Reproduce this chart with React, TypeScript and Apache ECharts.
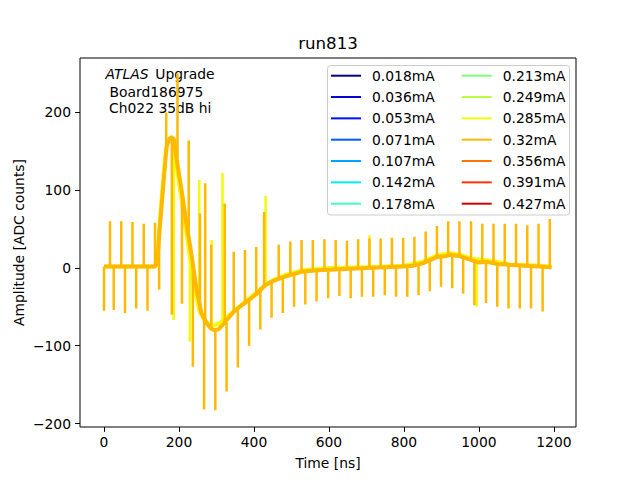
import React, { useEffect, useRef } from 'react';
import * as echarts from 'echarts';

// legend entries (laser current) and their jet colours
const currents = [
  '0.018mA', '0.036mA', '0.053mA', '0.071mA', '0.107mA', '0.142mA', '0.178mA',
  '0.213mA', '0.249mA', '0.285mA', '0.32mA', '0.356mA', '0.391mA', '0.427mA',
];
const currentColors = [
  '#000080', '#0000d1', '#0012ff', '#005bff', '#00a4ff', '#06ecf1', '#40ffb6',
  '#7bff7b', '#b6ff40', '#f1fc06', '#ffb900', '#ff7500', '#ff3200', '#d20000',
];

const xTicks = [0, 200, 400, 600, 800, 1000, 1200];
const yTicks = [-200, -100, 0, 100, 200];

// 0.32mA trace: slow pulse shape (ns, ADC)
const baseTimes32 = [
  0, 40, 80, 120, 136, 142, 149, 158, 167, 174, 180, 186, 194, 207, 220, 234, 247,
  260, 274, 285, 295, 305, 315, 336, 349, 370, 390, 410, 430, 455, 483, 527, 570,
  616, 660, 700, 750, 800, 825, 850, 870, 887, 910, 923, 950, 980, 1000, 1020,
  1050, 1079, 1120, 1160, 1194,
];
const baseValues32 = [
  2, 2, 2, 2, 2, 6, 53, 105, 156, 166, 168, 166, 139, 100, 57, 15, -28,
  -58, -71, -78, -80, -79, -74, -62, -55, -47, -40, -32, -22, -16, -11, -5, -3,
  -2, -1, 0, 1, 2, 3, 6, 10, 14, 15, 17, 15, 10, 7, 8,
  5, 4, 3, 2, 1,
];
// 0.32mA pickup spikes: time, level at the foot, tip
const spikeTimes32 = [
  16, 46, 76, 106, 136, 166, 196, 226, 256, 270, 286, 322, 346, 376, 406, 427,
  466, 497, 527, 557, 588, 618, 648, 678, 708, 738, 768, 798, 828, 858, 888, 918,
  948, 979, 1009, 1039, 1069, 1099, 1129, 1159, 1189,
  0, 26, 56, 86, 116, 147, 181, 208, 237, 267, 297, 327, 357, 387, 417, 447,
  477, 507, 537, 567, 598, 628, 658, 688, 718, 749, 779, 809, 839, 869, 899, 929,
  958, 988, 1019, 1049, 1079, 1109, 1139, 1170,
];
const spikeFeet32 = [
  2, 2, 2, 2, 2, 150, 140, 45, -55, -70, -78, -73, -56, -46, -36, -24,
  -12, -8, -5, -4, -3, -2, -1, -1, 0, 1, 1, 2, 3, 8, 14, 16,
  15, 10, 7, 7, 4, 4, 3, 2, 1,
  2, 2, 2, 2, 2, 30, 168, 95, 10, -66, -80, -70, -52, -41, -30, -18,
  -11, -7, -5, -4, -3, -2, -1, 0, 0, 1, 1, 2, 4, 10, 15, 16,
  14, 9, 8, 5, 4, 4, 3, 2,
];
const spikeTips32 = [
  60, 60, 59, 57, 58, 200, 250, 164, 70, 109, 30, 83, 21, 23, 27, 72,
  30, 34, 36, 36, 37, 36, 35, 37, 38, 38, 39, 39, 40, 47, 54, 60,
  60, 60, 57, 57, 57, 57, 55, 57, 63,
  -55, -54, -58, -52, -55, -28, -60, -46, -127, -182, -183, -159, -128, -100, -79, -64,
  -58, -50, -47, -43, -39, -36, -39, -37, -37, -35, -37, -37, -35, -30, -24, -26,
  -33, -48, -45, -50, -52, -52, -52, -56,
];

// 0.285mA trace, mostly hidden under 0.32mA
const baseTimes285 = [
  0, 136, 142, 148, 157, 165, 172, 180, 186, 192, 203, 216, 229, 242, 255, 268,
  280, 292, 305, 320, 340, 360, 390, 420, 450, 483, 527, 600, 700, 800, 850, 887,
  923, 950, 980, 1020, 1079, 1194,
];
const baseValues285 = [
  2, 2, 8, 55, 108, 152, 163, 165, 160, 135, 100, 57, 15, -28, -56, -68,
  -72, -74, -72, -66, -58, -50, -38, -26, -16, -9, -3, 0, 1, 3, 8, 16,
  19, 17, 12, 10, 5, 2,
];
const spikeTimes285 = [254, 287, 316, 431, 708, 186, 229, 994];
const spikeFeet285 = [-50, -73, -66, -20, 0, 165, 25, 8];
const spikeTips285 = [113, 36, 122, 93, 42, -67, -95, -50];

const FONT = 'DejaVu Sans';
const FS = 13.89; // 10pt at 100 dpi
const FS_TITLE = 16.67; // 12pt

interface Trace {
  base: number[][];
  spikes: (number | null)[][];
}

const buildTrace = (
  times: number[], values: number[],
  sTimes: number[], sFeet: number[], sTips: number[],
): Trace => {
  const spikes: (number | null)[][] = [];
  sTimes.forEach((t, i) => {
    spikes.push([t, null]);
    spikes.push([t, sFeet[i]]);
    spikes.push([t, sTips[i]]);
  });
  return { base: times.map((t, i) => [t, values[i]]), spikes };
};

const minusFmt = (v: number) => (v < 0 ? '\u2212' + Math.abs(v) : String(v));

const App: React.FC = () => {
  const chartRef = useRef<HTMLDivElement>(null);

  useEffect(() => {
    if (!chartRef.current) return;
    const chart = echarts.init(chartRef.current, undefined, { renderer: 'svg' });

    const traces: Record<string, Trace> = {
      '0.285mA': buildTrace(baseTimes285, baseValues285, spikeTimes285, spikeFeet285, spikeTips285),
      '0.32mA': buildTrace(baseTimes32, baseValues32, spikeTimes32, spikeFeet32, spikeTips32),
    };

    const lineSeries = (name: string, color: string, data: any[], width: number) => ({
      name,
      type: 'line' as const,
      data,
      showSymbol: false,
      symbol: 'none',
      connectNulls: false,
      color,
      lineStyle: { color, width, join: 'round' as const, cap: 'butt' as const },
      emphasis: { disabled: true },
      z: 2,
    });

    const series = currents.flatMap((name, i) => {
      const tr = traces[name];
      if (!tr) return [lineSeries(name, currentColors[i], [], 2)];
      return [
        lineSeries(name, currentColors[i], tr.base, 4),
        lineSeries(name, currentColors[i], tr.spikes, 2.5),
      ];
    });

    const legendCommon = {
      orient: 'vertical' as const,
      top: 67.7,
      padding: 0,
      icon: 'rect',
      itemWidth: 30,
      itemHeight: 2,
      itemGap: 5.33,
      selectedMode: false,
      textStyle: {
        fontFamily: FONT,
        fontSize: FS,
        lineHeight: 16,
        color: '#000',
        padding: [0, 0, 0, 6],
      },
    };

    const axisCommon = {
      type: 'value' as const,
      axisLine: { show: false, onZero: false },
      splitLine: { show: false },
    };

    const option: echarts.EChartsOption = {
      animation: false,
      textStyle: { fontFamily: FONT },
      grid: {
        left: 80,
        right: 64,
        top: 58,
        bottom: 53,
        show: true,
        borderColor: '#000',
        borderWidth: 1,
        backgroundColor: 'transparent',
      },
      xAxis: {
        ...axisCommon,
        min: -64,
        max: 1259,
        axisTick: { show: true, length: 4.9, lineStyle: { color: '#000', width: 1 }, customValues: xTicks },
        axisLabel: {
          color: '#000',
          fontSize: FS,
          fontFamily: FONT,
          margin: 8,
          customValues: xTicks,
          formatter: minusFmt,
        },
      },
      yAxis: {
        ...axisCommon,
        min: -204.5,
        max: 270,
        axisTick: { show: true, length: 4.9, lineStyle: { color: '#000', width: 1 }, customValues: yTicks },
        axisLabel: {
          color: '#000',
          fontSize: FS,
          fontFamily: FONT,
          margin: 9,
          customValues: yTicks,
          formatter: minusFmt,
        },
      },
      legend: [
        { ...legendCommon, left: 331, data: currents.slice(0, 7) },
        { ...legendCommon, left: 461.7, data: currents.slice(7) },
      ],
      graphic: [
        {
          type: 'rect',
          z: 3,
          shape: { x: 327.5, y: 65.5, width: 242, height: 149.5, r: 3 },
          style: { fill: 'rgba(255,255,255,0.8)', stroke: '#cccccc', lineWidth: 1 },
        },
        {
          type: 'text', x: 328, y: 43.2,
          style: { text: 'run813', font: `${FS_TITLE}px "${FONT}"`, fill: '#000', textAlign: 'center', textVerticalAlign: 'middle' },
        },
        {
          type: 'text', x: 328, y: 462.9,
          style: { text: 'Time [ns]', font: `${FS}px "${FONT}"`, fill: '#000', textAlign: 'center', textVerticalAlign: 'middle' },
        },
        {
          type: 'text', x: 19, y: 242.5, rotation: Math.PI / 2,
          style: { text: 'Amplitude [ADC counts]', font: `${FS}px "${FONT}"`, fill: '#000', textAlign: 'center', textVerticalAlign: 'middle' },
        },
        {
          type: 'text', x: 105.5, y: 74.2,
          style: { text: 'ATLAS', font: `italic ${FS}px "${FONT}"`, fill: '#000', textAlign: 'left', textVerticalAlign: 'middle' },
        },
        {
          type: 'text', x: 155.3, y: 74.2,
          style: { text: 'Upgrade', font: `${FS}px "${FONT}"`, fill: '#000', textAlign: 'left', textVerticalAlign: 'middle' },
        },
        {
          type: 'text', x: 109.5, y: 91.9,
          style: { text: 'Board186975', font: `${FS}px "${FONT}"`, fill: '#000', textAlign: 'left', textVerticalAlign: 'middle' },
        },
        {
          type: 'text', x: 109, y: 107.9,
          style: { text: 'Ch022 35dB hi', font: `${FS}px "${FONT}"`, fill: '#000', textAlign: 'left', textVerticalAlign: 'middle' },
        },
      ],
      series,
    };

    chart.setOption(option);

    return () => {
      chart.dispose();
    };
  }, []);

  return (
    <div
      ref={chartRef}
      style={{ position: 'fixed', left: 0, top: 0, width: 640, height: 480, background: '#fff' }}
    />
  );
};

export default App;
